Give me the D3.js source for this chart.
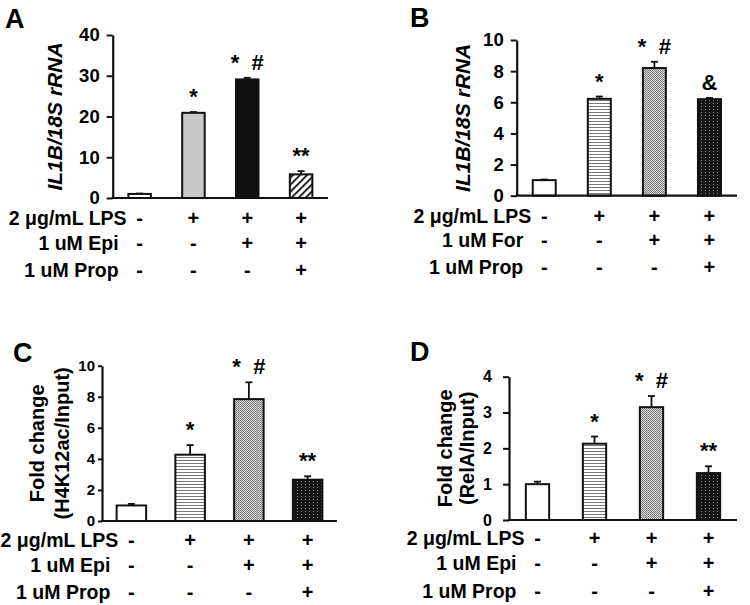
<!DOCTYPE html>
<html><head><meta charset="utf-8">
<script src="https://cdn.jsdelivr.net/npm/d3@7"></script>
<style>
html,body{margin:0;padding:0;background:#fff;}
svg{display:block;}
text{font-family:"Liberation Sans",Arial,sans-serif;font-weight:bold;fill:#000;}
</style></head>
<body>
<svg id="chart" width="750" height="605"></svg>
<script>
// ---------- data ----------
const groups = ["Control", "LPS", "LPS+Agonist", "LPS+Agonist+Prop"];
const lpsSigns = ["-", "+", "+", "+"];
const agonistSigns = ["-", "-", "+", "+"];
const propSigns = ["-", "-", "-", "+"];

const panelAValues = [1.0, 20.9, 29.1, 5.8];
const panelAErrors = [0.1, 0.2, 0.4, 0.8];
const panelAMarks = ["", "*", "* #", "**"];
const panelATicks = [0, 10, 20, 30, 40];
const panelARows = ["2 μg/mL LPS", "1 uM Epi", "1 uM Prop"];

const panelBValues = [1.0, 6.22, 8.2, 6.2];
const panelBErrors = [0.04, 0.15, 0.4, 0.08];
const panelBMarks = ["", "*", "* #", "&"];
const panelBTicks = [0, 2, 4, 6, 8, 10];
const panelBRows = ["2 μg/mL LPS", "1 uM For", "1 uM Prop"];

const panelCValues = [1.0, 4.27, 7.85, 2.66];
const panelCErrors = [0.1, 0.62, 1.08, 0.22];
const panelCMarks = ["", "*", "* #", "**"];
const panelCTicks = [0, 2, 4, 6, 8, 10];
const panelCRows = ["2 μg/mL LPS", "1 uM Epi", "1 uM Prop"];

const panelDValues = [1.0, 2.13, 3.15, 1.31];
const panelDErrors = [0.07, 0.2, 0.31, 0.19];
const panelDMarks = ["", "*", "* #", "**"];
const panelDTicks = [0, 1, 2, 3, 4];
const panelDRows = ["2 μg/mL LPS", "1 uM Epi", "1 uM Prop"];

// ---------- patterns ----------
const svg = d3.select("#chart");
const defs = svg.append("defs");

const hatch = defs.append("pattern").attr("id", "hatch").attr("patternUnits", "userSpaceOnUse")
  .attr("width", 5).attr("height", 5).attr("patternTransform", "rotate(45)");
hatch.append("rect").attr("width", 5).attr("height", 5).attr("fill", "#fff");
hatch.append("rect").attr("x", 0).attr("y", 0).attr("width", 1.8).attr("height", 5).attr("fill", "#111");

const hl = defs.append("pattern").attr("id", "hlines").attr("patternUnits", "userSpaceOnUse")
  .attr("width", 4).attr("height", 3);
hl.append("rect").attr("width", 4).attr("height", 3).attr("fill", "#fff");
hl.append("rect").attr("y", 1).attr("width", 4).attr("height", 1).attr("fill", "#777");

const st = defs.append("pattern").attr("id", "stipple").attr("patternUnits", "userSpaceOnUse")
  .attr("width", 2).attr("height", 2);
st.append("rect").attr("width", 2).attr("height", 2).attr("fill", "#d2d2d2");
st.append("rect").attr("width", 1).attr("height", 1).attr("fill", "#7a7a7a");
st.append("rect").attr("x", 1).attr("y", 1).attr("width", 1).attr("height", 1).attr("fill", "#8a8a8a");

const bd = defs.append("pattern").attr("id", "bdots").attr("patternUnits", "userSpaceOnUse")
  .attr("width", 4).attr("height", 3);
bd.append("rect").attr("width", 4).attr("height", 3).attr("fill", "#151515");
bd.append("rect").attr("x", 1).attr("y", 1).attr("width", 1).attr("height", 1).attr("fill", "#8c8c8c");

const fillsA = ["#fff", "#c8c8c8", "#111", "url(#hatch)"];
const fillsOther = ["#fff", "url(#hlines)", "url(#stipple)", "url(#bdots)"];

// ---------- panel drawing ----------
function drawPanel(cfg) {
  const g = svg.append("g");
  const x = d3.scaleBand().domain(groups).range([cfg.x0, cfg.x1]).paddingInner(cfg.pad).paddingOuter(cfg.pad / 2);
  const y = d3.scaleLinear().domain([0, d3.max(cfg.ticks)]).range([cfg.y0, cfg.yTop]);
  const bw = cfg.barW;
  const cx = d => x(d) + x.bandwidth() / 2;

  g.selectAll("rect.bar").data(groups).join("rect")
    .attr("x", d => cx(d) - bw / 2)
    .attr("y", (d, i) => y(cfg.values[i]))
    .attr("width", bw)
    .attr("height", (d, i) => y(0) - y(cfg.values[i]))
    .attr("fill", (d, i) => cfg.fills[i])
    .attr("stroke", "#111").attr("stroke-width", 2);

  const eb = g.selectAll("g.err").data(groups).join("g");
  eb.append("line")
    .attr("x1", cx).attr("x2", cx)
    .attr("y1", (d, i) => y(cfg.values[i]))
    .attr("y2", (d, i) => y(cfg.values[i] + cfg.errors[i]))
    .attr("stroke", "#111").attr("stroke-width", 1.8);
  eb.append("line")
    .attr("x1", d => cx(d) - 3.5).attr("x2", d => cx(d) + 3.5)
    .attr("y1", (d, i) => y(cfg.values[i] + cfg.errors[i]))
    .attr("y2", (d, i) => y(cfg.values[i] + cfg.errors[i]))
    .attr("stroke", "#111").attr("stroke-width", 1.8);

  g.selectAll("text.mark").data(groups).join("text")
    .attr("x", cx)
    .attr("y", (d, i) => y(cfg.values[i] + cfg.errors[i]) - 8)
    .attr("text-anchor", "middle")
    .style("font-size", "22px")
    .text((d, i) => cfg.marks[i].replace(" ", "\u00a0\u00a0"));

  const yAxis = d3.axisLeft(y).tickValues(cfg.ticks).tickFormat(d3.format("~g"))
    .tickSize(cfg.tickLen).tickPadding(cfg.tickPad).tickSizeOuter(0);
  const ya = g.append("g").attr("transform", `translate(${cfg.x0},0)`).call(yAxis);
  ya.select(".domain").attr("stroke", "#111").attr("stroke-width", 2.2);
  ya.selectAll(".tick line").attr("stroke", "#111").attr("stroke-width", 2);
  ya.selectAll(".tick text").style("font-size", cfg.tickFont + "px")
    .style("font-family", "Liberation Sans, Arial, sans-serif").style("font-weight", "bold").attr("fill", "#111");

  const xAxis = d3.axisBottom(x).tickSize(0).tickFormat("");
  const xa = g.append("g").attr("transform", `translate(0,${cfg.y0})`).call(xAxis);
  xa.select(".domain").attr("stroke", "#111").attr("stroke-width", 2.2).attr("d", `M${cfg.x0 - 1},0H${cfg.x1}`);

  const rowsSigns = [lpsSigns, agonistSigns, propSigns];
  cfg.rows.forEach((lab, r) => {
    const yy = cfg.y0 + cfg.rowOff[r];
    const first = cx(groups[0]);
    g.append("text").attr("x", first - (r === 0 ? 13 : 21)).attr("y", yy)
      .attr("dy", "0.36em").attr("text-anchor", "end")
      .style("font-size", "19.5px").text(lab);
    g.selectAll(null).data(groups).join("text")
      .attr("x", cx).attr("y", yy)
      .attr("dy", "0.36em").attr("text-anchor", "middle")
      .style("font-size", "20px")
      .text((d, i) => rowsSigns[r][i]);
  });

  const yl = g.append("text")
    .attr("transform", `translate(${cfg.labX},${(cfg.y0 + cfg.yTop) / 2}) rotate(-90)`)
    .attr("text-anchor", "middle").style("font-size", cfg.labFont + "px");
  cfg.ylab.forEach((t, k) => {
    yl.append("tspan").attr("x", 0).attr("dy", k === 0 ? "0.35em" : cfg.labGap).text(t)
      .style("font-style", cfg.italic ? "italic" : "normal");
  });

  g.append("text").attr("x", cfg.letX).attr("y", cfg.letY).style("font-size", "27px").text(cfg.letter);
}

drawPanel({letter: "A", letX: 5, letY: 28, values: panelAValues, errors: panelAErrors, marks: panelAMarks,
  ticks: panelATicks, rows: panelARows, fills: fillsA, x0: 112.7, x1: 328, y0: 198, yTop: 35, pad: 0.59, barW: 22.5,
  tickFont: 18.5, tickLen: 6, tickPad: 7, rowOff: [20, 45, 72], ylab: ["IL1B/18S rRNA"], italic: true, labX: 55, labFont: 21});
drawPanel({letter: "B", letX: 410, letY: 27, values: panelBValues, errors: panelBErrors, marks: panelBMarks,
  ticks: panelBTicks, rows: panelBRows, fills: fillsOther, x0: 516.7, x1: 737, y0: 195.7, yTop: 40, pad: 0.58, barW: 23,
  tickFont: 18.5, tickLen: 6, tickPad: 7, rowOff: [20, 44.5, 71], ylab: ["IL1B/18S rRNA"], italic: true, labX: 463, labFont: 21});
drawPanel({letter: "C", letX: 13, letY: 362, values: panelCValues, errors: panelCErrors, marks: panelCMarks,
  ticks: panelCTicks, rows: panelCRows, fills: fillsOther, x0: 102, x1: 337, y0: 521, yTop: 365.7, pad: 0.5, barW: 29.5,
  tickFont: 15, tickLen: 4, tickPad: 3, rowOff: [19, 43.5, 70.5], ylab: ["Fold change", "(H4K12ac/Input)"], italic: false,
  labX: 36.7, labFont: 20, labGap: "1.25em"});
drawPanel({letter: "D", letX: 410, letY: 361, values: panelDValues, errors: panelDErrors, marks: panelDMarks,
  ticks: panelDTicks, rows: panelDRows, fills: fillsOther, x0: 509, x1: 737, y0: 520, yTop: 376.7, pad: 0.59, barW: 23.3,
  tickFont: 16, tickLen: 6, tickPad: 11, rowOff: [18, 43, 71], ylab: ["Fold change", "(RelA/Input)"], italic: false,
  labX: 445, labFont: 20, labGap: "1.08em"});
</script>
</body></html>
